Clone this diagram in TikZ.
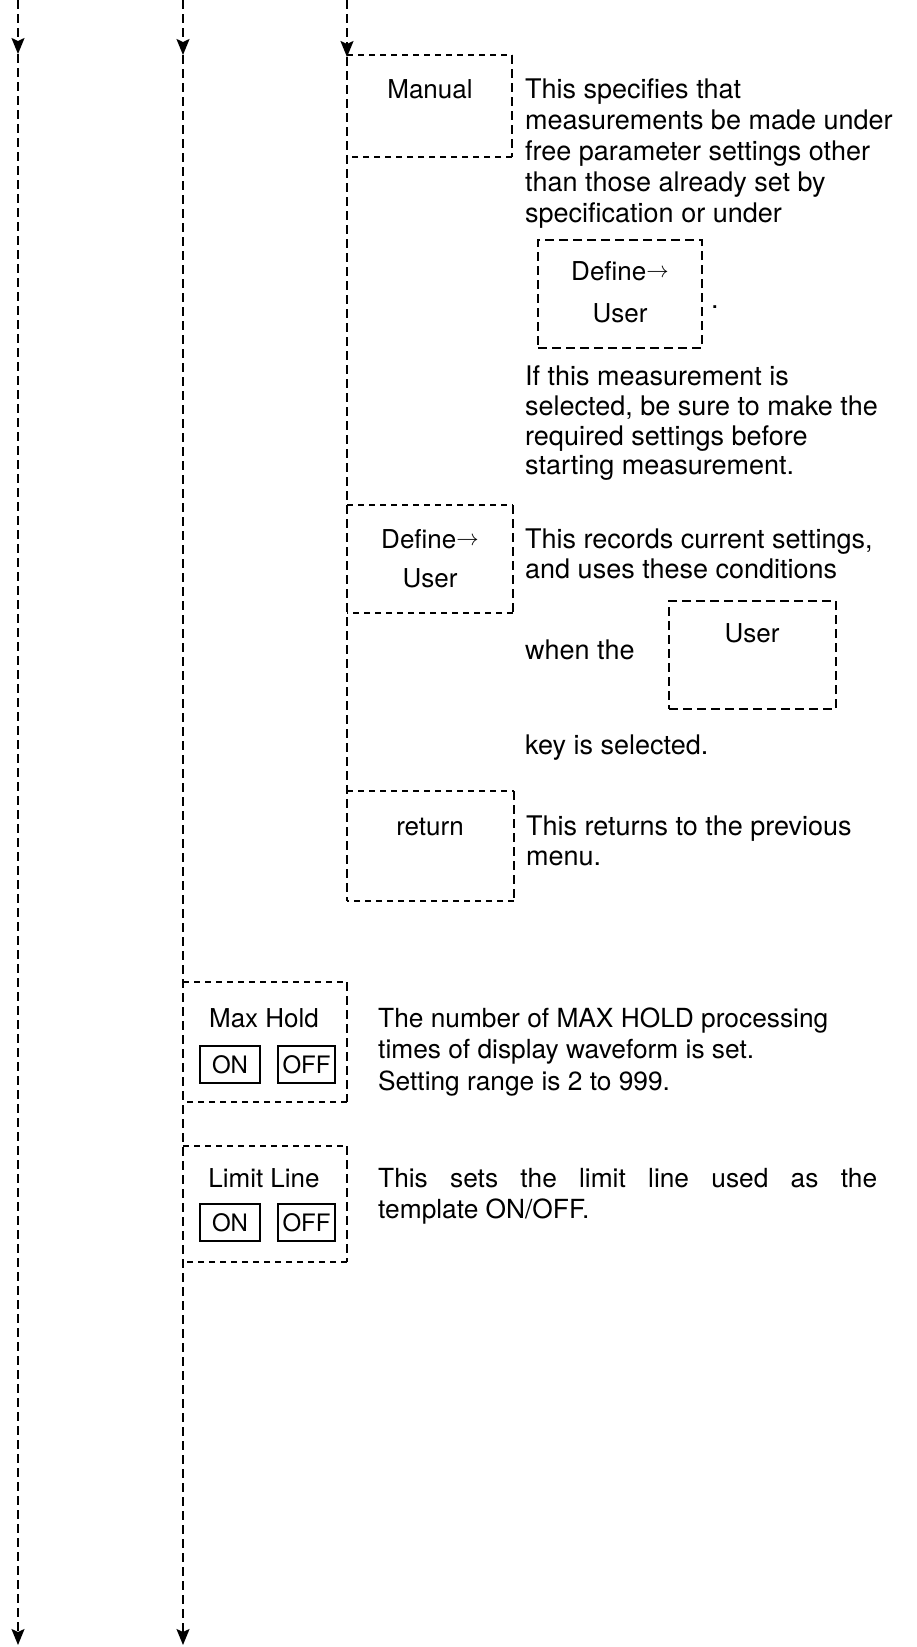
\documentclass[tikz,border=0pt]{standalone}
\usepackage{fontspec}
\usepackage{graphicx}
\setmainfont{TeX Gyre Heros}
\usetikzlibrary{arrows.meta}
\newcommand\dtext{\fontsize{27}{31}\selectfont}
\newcommand\mtext{\fontsize{26.3}{31}\selectfont}
\newcommand\ktext{\fontsize{26}{30}\selectfont}
\newcommand\otext{\fontsize{24}{28}\selectfont}
\newcommand\rarr{\raisebox{0.1em}{\scalebox{0.9}{$\rightarrow$}}}
\begin{document}
\begin{tikzpicture}[x=1pt,y=-1pt,
  flow/.style={line width=1.8pt, dash pattern=on 9pt off 5pt},
  topedge/.style={line width=1.3pt, dash pattern=on 6pt off 5pt},
  sideedge/.style={line width=1.6pt, dash pattern=on 9pt off 5pt},
  keybox/.style={draw, line width=1.7pt, dash pattern=on 9pt off 5pt, inner sep=0pt, outer sep=0pt, anchor=north west},
  tip/.style={-{Stealth[length=16pt,width=13pt,inset=3pt]}},
  txt/.style={anchor=base west, inner sep=0pt, font=\dtext},
  mtxt/.style={anchor=base west, inner sep=0pt, font=\mtext},
  lbl/.style={anchor=base, inner sep=0pt, font=\ktext},
  area/.style={rectangle, inner sep=0pt, outer sep=0pt, anchor=north west},
  swbox/.style={draw, line width=1.5pt, inner sep=0pt, outer sep=0pt, font=\otext, anchor=north west, minimum height=37pt}
]
\useasboundingbox (0,0) rectangle (916,1647);

% ---- vertical flow lines ----
\coordinate (l1top) at (18,0);
\coordinate (l1arr) at (18,54);
\coordinate (l1bot) at (18,1645);
\coordinate (l2top) at (183,0);
\coordinate (l2arr) at (183,55);
\coordinate (l2bot) at (183,1645);
\coordinate (l3top) at (347,0);
\coordinate (l3arr) at (347,57);

% ---- three-sided key boxes ----
\node[area, minimum width=165pt, minimum height=102pt] (manual) at (347,55) {};
\node[area, minimum width=166pt, minimum height=108pt] (defuser) at (347,505) {};
\node[area, minimum width=167pt, minimum height=110pt] (ret) at (347,791) {};
\node[area, minimum width=164pt, minimum height=120pt] (maxhold) at (183,982) {};
\node[area, minimum width=164pt, minimum height=116pt] (limit) at (183,1146) {};

\draw[flow,tip] (l1top) -- (l1arr);
\draw[flow,tip] (l1arr) -- (l1bot);
\draw[flow,tip] (l2top) -- (l2arr);
\draw[flow,tip] (l2arr) -- (l2bot);
\draw[flow,tip] (l3top) -- (l3arr);
\draw[flow] (l3arr) -- (ret.south west);

\foreach \b in {manual,defuser,ret,maxhold,limit}{
  \draw[topedge] (\b.north west) -- (\b.north east);
  \draw[sideedge] (\b.north east) -- (\b.south east);
  \draw[topedge] (\b.south east) -- (\b.south west);
}

% ---- labels in key boxes ----
\node[lbl] (manualL) at (430,98) {Manual};
\node[lbl] (defuserL1) at (430,548) {Define\rarr};
\node[lbl] (defuserL2) at (430,587) {User};
\node[lbl] (retL) at (430,835) {return};
\node[lbl] (maxholdL) at (264,1027) {Max Hold};
\node[lbl] (limitL) at (264,1187) {Limit Line};

\node[swbox, minimum width=60pt] (mhon) at (200,1046) {ON};
\node[swbox, minimum width=57pt] (mhoff) at (278,1046) {OFF};
\node[swbox, minimum width=60pt] (llon) at (200,1204) {ON};
\node[swbox, minimum width=57pt] (lloff) at (278,1204) {OFF};

% ---- inline key boxes ----
\node[keybox, minimum width=164pt, minimum height=108pt] (kdef) at (538,240) {};
\node[lbl] (kdefL1) at (620,280) {Define\rarr};
\node[lbl] (kdefL2) at (620,322) {User};
\node[txt] (kdot) at (711,308) {.};
\node[keybox, minimum width=167pt, minimum height=108pt] (kuser) at (669,601) {};
\node[lbl] (kuserL) at (752,642) {User};

% ---- descriptions ----
\node[txt] (d1a) at (525,98) {This specifies that};
\node[txt] (d1b) at (525,129) {measurements be made under};
\node[txt] (d1c) at (525,160) {free parameter settings other};
\node[txt] (d1d) at (525,191) {than those already set by};
\node[txt] (d1e) at (525,222) {specification or under};
\node[txt] (d1f) at (525,385) {If this measurement is};
\node[txt] (d1g) at (525,415) {selected, be sure to make the};
\node[txt] (d1h) at (525,445) {required settings before};
\node[txt] (d1i) at (525,474) {starting measurement.};

\node[txt] (d2a) at (525,548) {This records current settings,};
\node[txt] (d2b) at (525,578) {and uses these conditions};
\node[txt] (d2c) at (525,659) {when the};
\node[txt] (d2d) at (525,754) {key is selected.};

\node[txt] (d3a) at (526,835) {This returns to the previous};
\node[txt] (d3b) at (526,865) {menu.};

\node[mtxt] (d4a) at (378,1027) {The number of MAX HOLD processing};
\node[mtxt] (d4b) at (378,1058) {times of display waveform is set.};
\node[mtxt] (d4c) at (378,1090) {Setting range is 2 to 999.};

\node[mtxt] (d5a) at (378,1187) {\makebox[499pt][s]{This sets the limit line used as the}};
\node[mtxt] (d5b) at (378,1218) {template ON/OFF.};
\end{tikzpicture}
\end{document}
